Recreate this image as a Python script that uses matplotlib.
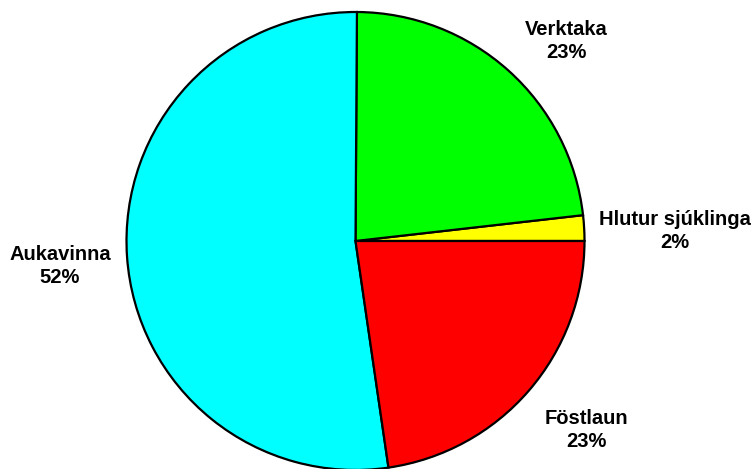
import numpy as np
import matplotlib
matplotlib.use("Agg")
import matplotlib.pyplot as plt

categories = ["Hlutur sjúklinga", "Verktaka", "Aukavinna", "Föstlaun"]
values = [1.8, 23.1, 52.4, 22.7]
colors = ["#FFFF00", "#00FF00", "#00FFFF", "#FF0000"]

# label placement (style): pixel offsets of last-line baseline from pie centre
label_pos = [(319.5, -7), (210.5, 183), (-295.5, -42), (230.5, -206)]

W, H = 755, 469
fig = plt.figure(figsize=(W / 100, H / 100), dpi=100)
ax = fig.add_axes([0, 0, 1, 1])

cx, cy, r = 355.5, H - 241, 229
wedges, _ = ax.pie(values, colors=colors, startangle=0, counterclock=True,
                   center=(cx, cy), radius=r, frame=True,
                   wedgeprops=dict(edgecolor="black", linewidth=1.6))
ax.set_xlim(0, W)
ax.set_ylim(0, H)
ax.axis("off")

total = sum(values)
for cat, v, (dx, dy) in zip(categories, values, label_pos):
    ax.text(cx + dx, cy + dy, f"{cat}\n{v / total * 100:.0f}%",
            ha="center", va="baseline", fontsize=14.5, fontweight="bold",
            family="Liberation Sans", linespacing=1.25, multialignment="center")

fig.savefig("out.png", dpi=100)
